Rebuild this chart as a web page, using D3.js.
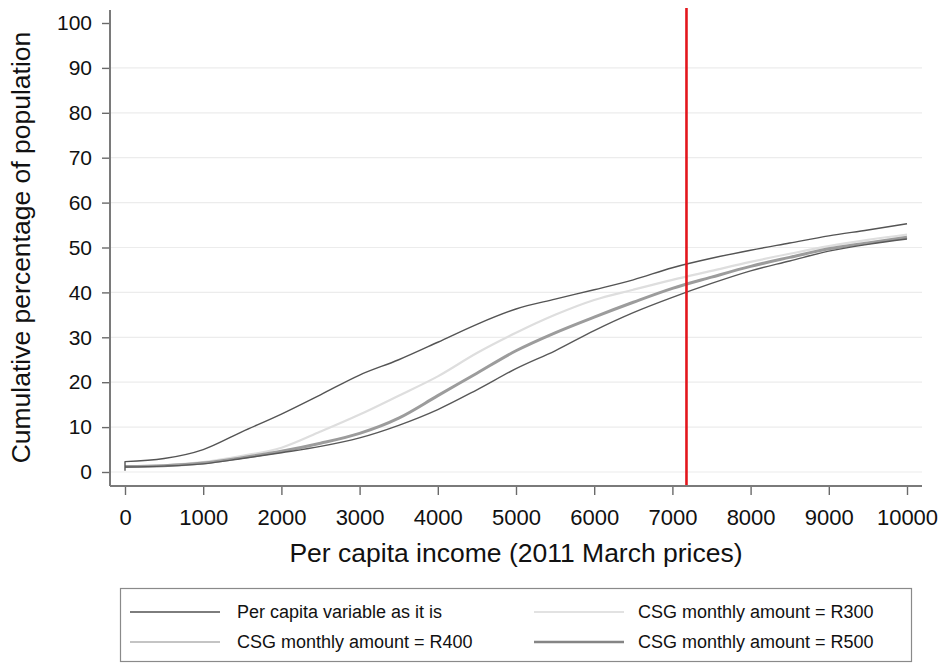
<!DOCTYPE html>
<html>
<head>
<meta charset="utf-8">
<script src="https://cdn.jsdelivr.net/npm/d3@7/dist/d3.min.js"></script>
<style>
  html, body { margin: 0; padding: 0; background: #fff; }
  svg { display: block; font-family: "Liberation Sans", Arial, Helvetica, sans-serif; }
</style>
</head>
<body>
<svg id="chart" width="946" height="664"></svg>
<script>
// Per capita income (2011 March prices); the first point repeats 0 so a series can start with a vertical jump
const income = [0, 0, 500, 1000, 1500, 2000, 2500, 3000, 3500, 4000, 4500, 5000,
                5500, 6000, 6500, 7000, 7500, 8000, 8500, 9000, 9500, 10000];

// Cumulative percentage of population below each income level
const asIs = [0.3, 2.3, 3.0, 5.0, 9.0, 12.9, 17.2, 21.6, 25.0, 28.9, 32.9, 36.3,
              38.5, 40.6, 42.8, 45.5, 47.6, 49.4, 51.0, 52.6, 53.9, 55.3];
const csg300 = [1.3, 1.3, 1.5, 2.2, 3.6, 5.4, 9.0, 12.8, 17.0, 21.3, 26.5, 31.0,
                35.0, 38.3, 40.6, 42.8, 44.8, 46.8, 48.6, 50.3, 51.7, 52.9];
const csg400 = [1.2, 1.2, 1.4, 2.0, 3.2, 4.6, 6.4, 8.6, 12.0, 17.0, 22.0, 27.0,
                31.0, 34.5, 37.8, 40.9, 43.4, 45.8, 47.8, 49.7, 51.0, 52.3];
const csg500 = [1.1, 1.1, 1.3, 1.8, 3.0, 4.3, 5.7, 7.6, 10.4, 13.9, 18.3, 23.0,
                27.0, 31.5, 35.5, 38.9, 42.0, 44.8, 47.0, 49.2, 50.7, 51.9];

const seriesNames = ["Per capita variable as it is", "CSG monthly amount = R300",
                     "CSG monthly amount = R400", "CSG monthly amount = R500"];
const seriesValues = [asIs, csg300, csg400, csg500];

const xTicks = [0, 1000, 2000, 3000, 4000, 5000, 6000, 7000, 8000, 9000, 10000];
const yTicks = [0, 10, 20, 30, 40, 50, 60, 70, 80, 90, 100];
const povertyLine = 7180;

const xTitle = "Per capita income (2011 March prices)";
const yTitle = "Cumulative percentage of population";

// ---- drawing ----
const svg = d3.select("#chart");
const frame = { left: 110, right: 922, top: 8, bottom: 486 };

const x = d3.scaleLinear().domain([0, 10000]).range([125, 907]);
const y = d3.scaleLinear().domain([0, 100]).range([472, 23]);

const styles = [
  { stroke: "#545454", width: 1.4, legend: "#7d7d7d", legendWidth: 2 },
  { stroke: "#dedede", width: 2.2, legend: "#e2e2e2", legendWidth: 2 },
  { stroke: "#9c9c9c", width: 3.0, legend: "#c4c4c4", legendWidth: 2 },
  { stroke: "#585858", width: 1.4, legend: "#858585", legendWidth: 2.4 }
];

// horizontal grid
svg.append("g")
  .selectAll("line")
  .data(yTicks.filter(d => d < 100))
  .join("line")
  .attr("x1", frame.left).attr("x2", frame.right)
  .attr("y1", d => y(d)).attr("y2", d => y(d))
  .attr("stroke", "#ececec").attr("stroke-width", 1.2);

// series lines: a vertical jump at zero income, then a smooth monotone curve
const smooth = d3.line()
  .x(d => x(d[0]))
  .y(d => y(d[1]))
  .curve(d3.curveMonotoneX);

function seriesPath(values) {
  const pts = values.map((v, i) => [income[i], v]);
  const start = pts[0];
  const rest = smooth(pts.slice(1));
  return `M${x(start[0])},${y(start[1])}L` + rest.slice(1);
}

const drawOrder = [1, 2, 3, 0];
svg.append("g")
  .selectAll("path")
  .data(drawOrder)
  .join("path")
  .attr("d", k => seriesPath(seriesValues[k]))
  .attr("fill", "none")
  .attr("stroke", k => styles[k].stroke)
  .attr("stroke-width", k => styles[k].width)
  .attr("stroke-linejoin", "round");

// poverty line marker
svg.append("line")
  .attr("x1", x(povertyLine)).attr("x2", x(povertyLine))
  .attr("y1", frame.top).attr("y2", frame.bottom)
  .attr("stroke", "#e3161d").attr("stroke-width", 2.6);

// axes
const xAxis = d3.axisBottom(x).tickValues(xTicks).tickSize(9).tickPadding(14)
  .tickFormat(d3.format("d"));
const gx = svg.append("g").attr("transform", `translate(0,${frame.bottom})`).call(xAxis);
gx.select(".domain").remove();
gx.selectAll(".tick line").attr("stroke", "#6a6a6a").attr("stroke-width", 1.4);
gx.selectAll(".tick text").attr("font-size", 22).attr("fill", "#111")
  .attr("font-family", "Liberation Sans, Arial, sans-serif");

const yAxis = d3.axisLeft(y).tickValues(yTicks).tickSize(8).tickPadding(10)
  .tickFormat(d3.format("d"));
const gy = svg.append("g").attr("transform", `translate(${frame.left},0)`).call(yAxis);
gy.select(".domain").remove();
gy.selectAll(".tick line").attr("stroke", "#6a6a6a").attr("stroke-width", 1.4);
gy.selectAll(".tick text").attr("font-size", 21).attr("fill", "#111")
  .attr("font-family", "Liberation Sans, Arial, sans-serif");

// axis lines
svg.append("line")
  .attr("x1", frame.left).attr("x2", frame.left)
  .attr("y1", frame.top + 2).attr("y2", frame.bottom)
  .attr("stroke", "#7a7a7a").attr("stroke-width", 2);
svg.append("line")
  .attr("x1", frame.left).attr("x2", frame.right)
  .attr("y1", frame.bottom).attr("y2", frame.bottom)
  .attr("stroke", "#7a7a7a").attr("stroke-width", 2);

// axis titles
svg.append("text")
  .attr("x", (x(0) + x(10000)) / 2).attr("y", 562)
  .attr("text-anchor", "middle").attr("font-size", 26.5).attr("fill", "#111")
  .text(xTitle);

svg.append("text")
  .attr("transform", `translate(30,${(y(0) + y(100)) / 2}) rotate(-90)`)
  .attr("text-anchor", "middle").attr("font-size", 26.5).attr("fill", "#111")
  .text(yTitle);

// legend
const legend = svg.append("g");
legend.append("rect")
  .attr("x", 120.5).attr("y", 588.5).attr("width", 791).attr("height", 73)
  .attr("fill", "#fff").attr("stroke", "#8a8a8a").attr("stroke-width", 1.2);

const legendPos = [
  { lx: 130, tx: 237, row: 612 },
  { lx: 534, tx: 638, row: 612 },
  { lx: 130, tx: 237, row: 642 },
  { lx: 534, tx: 638, row: 642 }
];
const items = legend.selectAll("g.item").data(seriesNames).join("g").attr("class", "item");
items.append("line")
  .attr("x1", (d, i) => legendPos[i].lx).attr("x2", (d, i) => legendPos[i].lx + 90)
  .attr("y1", (d, i) => legendPos[i].row).attr("y2", (d, i) => legendPos[i].row)
  .attr("stroke", (d, i) => styles[i].legend)
  .attr("stroke-width", (d, i) => styles[i].legendWidth);
items.append("text")
  .attr("x", (d, i) => legendPos[i].tx).attr("y", (d, i) => legendPos[i].row + 6)
  .attr("font-size", 18).attr("fill", "#111")
  .text(d => d);
</script>
</body>
</html>
